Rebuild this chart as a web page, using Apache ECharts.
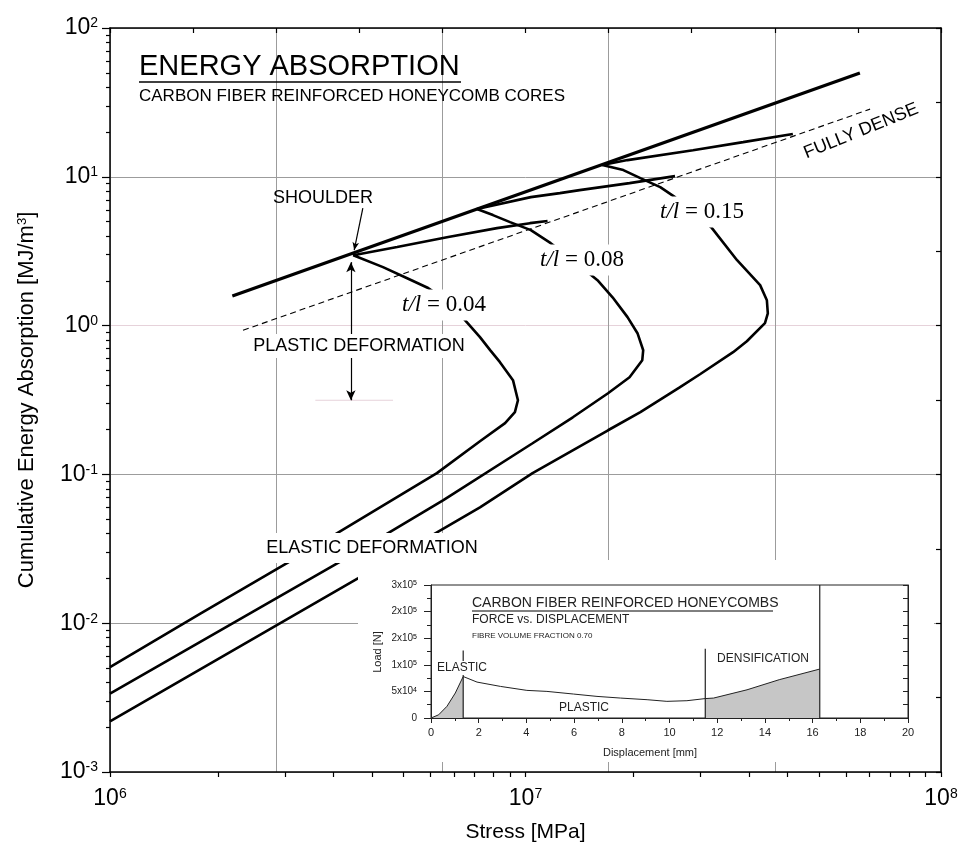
<!DOCTYPE html>
<html><head><meta charset="utf-8">
<script src="https://cdn.jsdelivr.net/npm/echarts@6/dist/echarts.min.js"></script>
<style>html,body{margin:0;padding:0;background:#fff}#c{width:958px;height:848px}</style>
</head><body><div id="c"></div>
<script>
// ---------- data (stress [Pa], cumulative energy [MJ/m3]) ----------
const tl04 = [[1.00e6,5.07e-3],[1.65e6,1.16e-2],[2.87e6,2.86e-2],[6.12e6,0.102],[7.77e6,0.167],[8.93e6,0.221],[9.43e6,0.262],[9.59e6,0.315],[9.33e6,0.430],[8.68e6,0.568],[8.22e6,0.684],[7.77e6,0.836],[7.15e6,1.09],[6.44e6,1.48],[5.83e6,1.79],[5.19e6,2.08],[4.54e6,2.47],[3.85e6,2.97],[4.91e6,3.37],[6.47e6,3.93],[8.54e6,4.52],[1.025e7,4.88],[1.13e7,5.04]];
const tl08 = [[1.00e6,3.36e-3],[3.60e6,2.61e-2],[6.33e6,6.70e-2],[1.04e7,0.162],[1.30e7,0.242],[1.58e7,0.351],[1.78e7,0.450],[1.91e7,0.585],[1.92e7,0.683],[1.86e7,0.889],[1.76e7,1.14],[1.62e7,1.55],[1.49e7,2.02],[1.32e7,2.67],[1.15e7,3.58],[1.03e7,4.38],[9.18e6,4.96],[8.35e6,5.53],[7.64e6,6.07],[1.03e7,7.30],[1.21e7,7.77],[1.35e7,8.14],[1.78e7,9.07],[2.29e7,10.1]];
const tl15 = [[1.00e6,2.19e-3],[3.95e6,2.00e-2],[7.77e6,6.01e-2],[1.04e7,0.102],[1.58e7,0.198],[1.89e7,0.262],[2.35e7,0.385],[2.63e7,0.471],[3.16e7,0.663],[3.41e7,0.785],[3.77e7,1.04],[3.83e7,1.21],[3.81e7,1.48],[3.67e7,1.87],[3.23e7,2.75],[2.81e7,4.52],[2.53e7,5.79],[2.29e7,7.30],[2.11e7,8.53],[1.89e7,9.80],[1.72e7,11.1],[1.53e7,12.0],[1.76e7,12.95],[2.53e7,15.1],[3.34e7,17.1],[4.40e7,19.4]];
const shoulderEnvelope = [[1.97e6,1.58],[6.38e7,49.8]];
const fullyDense = [[2.09e6,0.93],[6.75e7,28.5]];
const plasticArrow = [[3.80e6,2.67],[3.80e6,0.315]];
const shoulderPointer = [[4.06e6,6.16],[3.87e6,3.21]];
const pinkMark = [[3.12e6,0.315],[4.80e6,0.315]];

// ---------- tick values / labels ----------
const xDecades = [1e6, 1e7, 1e8];
const xMinorMantissa = [1.818, 2.636, 3.455, 4.273, 5.091, 5.909, 6.727, 7.545, 8.364, 9.182];
const xTickLabels = ['10{s|6}', '10{s|7}', '10{s|8}'];
const yDecades = [1e-3, 1e-2, 1e-1, 1, 10, 100];
const yMinorMantissa = [2, 3, 4, 5, 6, 7, 8, 9];
const yTickLabels = ['10{s|-3}', '10{s|-2}', '10{s|-1}', '10{s|0}', '10{s|1}', '10{s|2}'];

// ---------- inset data (displacement [mm], load [N]) ----------
const insetElastic = [[0,0],[0.32,6000],[0.67,22000],[1.02,47000],[1.35,78000]];
const insetPlastic = [[1.35,78000],[1.93,67500],[2.91,59400],[4.02,51900],[4.86,50000],[5.98,45000],[6.96,40600],[7.94,37500],[9.06,34400],[9.89,31300],[10.73,32500],[11.5,36500]];
const insetDensification = [[11.5,36500],[11.85,37500],[13.25,53000],[14.6,72000],[16.3,92000]];
const insetBoundaries = [[1.35,127000],[11.5,130000],[16.3,250000]];
const insetYLabels = ['0','5x10{s|4}','1x10{s|5}','2x10{s|5}','2x10{s|5}','3x10{s|5}'];

// ---------- build ----------
const FF = '"Liberation Sans", Arial, sans-serif';
const SERIF = '"Liberation Serif", "Times New Roman", serif';
const lg = Math.log10;
const xBottomTicks = [];
xDecades.forEach((d, i) => { xBottomTicks.push(lg(d)); if (i < xDecades.length - 1) xMinorMantissa.forEach(m => xBottomTicks.push(lg(d * m))); });
const yMinorTicks = [];
yDecades.forEach((d, i) => { if (i < yDecades.length - 1) yMinorMantissa.forEach(m => yMinorTicks.push(lg(d * m))); });

const chart = echarts.init(document.getElementById('c'), null, {renderer: 'canvas'});
const black = '#000';
const supRich = (big, small) => ({ s: {fontSize: small, verticalAlign: 'top', fontFamily: FF, color: black, lineHeight: big} });

function line(data, width, extra) {
  return Object.assign({type: 'line', xAxisIndex: 0, yAxisIndex: 0, data: data, symbol: 'none', silent: true,
    lineStyle: {color: black, width: width}, z: 3}, extra || {});
}
function txt(text, x, y, size, opt) {
  opt = opt || {};
  return {type: 'text', x: x, y: y, rotation: opt.rotation || 0, z: opt.z || 15, silent: true,
    style: Object.assign({text: text, fill: opt.color || black, fontSize: size, fontFamily: opt.family || FF,
      textAlign: opt.align || 'center', textVerticalAlign: 'middle'}, opt.style || {})};
}
function hline(x1, x2, y, z, w) { return {type: 'line', z: z, silent: true, shape: {x1: x1, y1: y, x2: x2, y2: y}, style: {stroke: black, lineWidth: w || 1}}; }
const noZeroLine = {show: false, onZero: false};

const option = {
  animation: false,
  backgroundColor: '#fff',
  textStyle: {fontFamily: FF},
  grid: [
    {left: 110, right: 17, top: 28, bottom: 76, show: false, outerBoundsMode: 'none'},
    {left: 431, right: 50, top: 585, bottom: 130, show: true, borderColor: '#222', borderWidth: 1, backgroundColor: 'rgba(0,0,0,0)', z: 20, outerBoundsMode: 'none'}
  ],
  xAxis: [
    {type: 'log', logBase: 10, gridIndex: 0, min: 1e6, max: 1e8, position: 'bottom',
     axisLine: {show: true, onZero: false, lineStyle: {color: black, width: 1.5}},
     axisTick: {show: false}, splitLine: {show: false},
     axisLabel: {color: black, fontSize: 23, margin: 15, fontFamily: FF,
       formatter: v => xTickLabels[Math.round(lg(v)) - 6], rich: supRich(23, 14)},
     name: 'Stress [MPa]', nameLocation: 'middle', nameGap: 50,
     nameTextStyle: {fontSize: 21, color: black, fontFamily: FF}},
    {type: 'value', gridIndex: 0, min: 6, max: 8, position: 'bottom',
     axisLine: noZeroLine, axisLabel: {show: false}, splitLine: {show: false},
     axisTick: {show: true, customValues: xBottomTicks, length: 5, lineStyle: {color: black, width: 1.2}}},
    {type: 'value', gridIndex: 0, min: 6, max: 8, interval: 0.2, position: 'top',
     axisLine: {show: true, onZero: false, lineStyle: {color: black, width: 1.5}}, axisLabel: {show: false}, splitLine: {show: false},
     axisTick: {show: true, inside: true, length: 5, lineStyle: {color: black, width: 1.2}}},
    {type: 'value', gridIndex: 0, min: 6, max: 8, interval: 0.4, position: 'top',
     axisLine: noZeroLine, axisLabel: {show: false}, axisTick: {show: false},
     splitLine: {show: true, lineStyle: {color: '#9c9c9c', width: 1}}},
    {type: 'value', gridIndex: 1, min: 0, max: 20, interval: 2, position: 'bottom', z: 20,
     axisLine: {show: true, onZero: false, lineStyle: {color: '#222', width: 1}},
     axisTick: {show: true, length: 5, lineStyle: {color: '#222'}},
     minorTick: {show: true, splitNumber: 2, length: 3, lineStyle: {color: '#222'}},
     axisLabel: {color: '#222', fontSize: 11, margin: 9, fontFamily: FF}, splitLine: {show: false}}
  ],
  yAxis: [
    {type: 'log', logBase: 10, gridIndex: 0, min: 1e-3, max: 1e2, position: 'left',
     axisLine: {show: true, onZero: false, lineStyle: {color: black, width: 1.5}},
     axisTick: {show: false}, splitLine: {show: false},
     axisLabel: {color: black, fontSize: 23, margin: 12, fontFamily: FF,
       formatter: v => yTickLabels[Math.round(lg(v)) + 3], rich: supRich(23, 14)},
     name: 'Cumulative Energy Absorption [MJ/m{s|3}]', nameLocation: 'middle', nameGap: 72, nameRotate: 90,
     nameTextStyle: {fontSize: 22, color: black, fontFamily: FF, rich: supRich(22, 13)}},
    {type: 'value', gridIndex: 0, min: -3, max: 2, position: 'left',
     axisLine: noZeroLine, axisLabel: {show: false}, splitLine: {show: false},
     axisTick: {show: true, customValues: yMinorTicks, length: 4, lineStyle: {color: black, width: 1.2}}},
    {type: 'value', gridIndex: 0, min: -3, max: 2, interval: 1, position: 'left',
     axisLine: noZeroLine, axisLabel: {show: false},
     axisTick: {show: true, length: 8, lineStyle: {color: black, width: 1.2}},
     splitLine: {show: true, lineStyle: {color: ['#9c9c9c', '#9c9c9c', '#9c9c9c', '#e6d2da', '#9c9c9c', '#9c9c9c'], width: 1}}},
    {type: 'value', gridIndex: 0, min: -3, max: 2, interval: 0.5, position: 'right',
     axisLine: {show: true, onZero: false, lineStyle: {color: black, width: 1.5}}, axisLabel: {show: false}, splitLine: {show: false},
     axisTick: {show: true, inside: true, length: 5, lineStyle: {color: black, width: 1.2}}},
    {type: 'value', gridIndex: 1, min: 0, max: 250000, interval: 50000, position: 'left', z: 20,
     axisLine: {show: true, onZero: false, lineStyle: {color: '#222', width: 1}},
     axisTick: {show: true, length: 7, lineStyle: {color: '#222'}},
     minorTick: {show: true, splitNumber: 2, length: 4, lineStyle: {color: '#222'}},
     axisLabel: {color: '#222', fontSize: 10, margin: 14, fontFamily: FF,
       formatter: v => insetYLabels[Math.round(v / 50000)], rich: supRich(10, 7)},
     splitLine: {show: false}},
    {type: 'value', gridIndex: 1, min: 0, max: 250000, interval: 25000, position: 'right', z: 20,
     axisLine: {show: true, onZero: false, lineStyle: {color: '#222', width: 1}},
     axisTick: {show: true, inside: true, length: 5, lineStyle: {color: '#222'}},
     axisLabel: {show: false}, splitLine: {show: false}}
  ],
  series: [
    line(fullyDense, 1.1, {lineStyle: {color: black, width: 1.1, type: [6, 4]}}),
    line(shoulderEnvelope, 3.3),
    line(tl04, 2.6),
    line(tl08, 2.6),
    line(tl15, 2.6),
    line(pinkMark, 1, {lineStyle: {color: '#e6d2da', width: 1}, z: 1,
      markLine: {silent: true, animation: false, label: {show: false}, precision: 10,
        data: [
          [{coord: plasticArrow[0], symbol: 'arrow', symbolSize: [7, 10]}, {coord: plasticArrow[1], symbol: 'arrow', symbolSize: [7, 10]}],
          [{coord: shoulderPointer[0], symbol: 'none'}, {coord: shoulderPointer[1], symbol: 'arrow', symbolSize: [5, 8]}]
        ],
        lineStyle: {color: black, width: 1.2, type: 'solid'}}}),
    {type: 'line', xAxisIndex: 4, yAxisIndex: 4, data: insetElastic, symbol: 'none', silent: true, z: 21,
     lineStyle: {color: '#222', width: 1}, areaStyle: {color: '#c6c6c6', opacity: 1}},
    {type: 'line', xAxisIndex: 4, yAxisIndex: 4, data: insetPlastic, symbol: 'none', silent: true, z: 21,
     lineStyle: {color: '#222', width: 1}},
    {type: 'line', xAxisIndex: 4, yAxisIndex: 4, data: insetDensification, symbol: 'none', silent: true, z: 21,
     lineStyle: {color: '#222', width: 1}, areaStyle: {color: '#c6c6c6', opacity: 1}}
  ].concat(insetBoundaries.map(b => ({type: 'line', xAxisIndex: 4, yAxisIndex: 4, data: [[b[0], 0], [b[0], b[1]]],
     symbol: 'none', silent: true, z: 22, lineStyle: {color: '#222', width: 1.2}}))),
  graphic: {elements: [
    {type: 'rect', z: 10, silent: true, shape: {x: 358, y: 560, width: 576, height: 202}, style: {fill: '#fff'}},
    txt('ENERGY ABSORPTION', 139, 67, 29, {align: 'left'}),
    hline(139, 461, 82, 15, 1.6),
    txt('CARBON FIBER REINFORCED HONEYCOMB CORES', 139, 96, 17, {align: 'left'}),
    txt('SHOULDER', 323, 198, 18),
    txt('PLASTIC DEFORMATION', 359, 346, 18, {style: {backgroundColor: '#fff', padding: [3, 2]}}),
    txt('ELASTIC DEFORMATION', 372, 548, 18, {style: {backgroundColor: '#fff', padding: [6, 2]}}),
    txt('FULLY DENSE', 861, 131, 18, {rotation: 0.385}),
    txt('{i|t/l} = 0.04', 444, 305, 23, {family: SERIF, style: {backgroundColor: '#fff', padding: [4, 3], rich: {i: {fontStyle: 'italic', fontSize: 23, fontFamily: SERIF}}}}),
    txt('{i|t/l} = 0.08', 582, 260, 23, {family: SERIF, style: {backgroundColor: '#fff', padding: [4, 3], rich: {i: {fontStyle: 'italic', fontSize: 23, fontFamily: SERIF}}}}),
    txt('{i|t/l} = 0.15', 702, 212, 23, {family: SERIF, style: {backgroundColor: '#fff', padding: [4, 3], rich: {i: {fontStyle: 'italic', fontSize: 23, fontFamily: SERIF}}}}),
    txt('CARBON FIBER REINFORCED HONEYCOMBS', 472, 603, 14, {align: 'left', z: 25, color: '#222'}),
    hline(472, 773, 611, 25, 1),
    txt('FORCE vs. DISPLACEMENT', 472, 620, 12, {align: 'left', z: 25, color: '#222'}),
    txt('FIBRE VOLUME FRACTION 0.70', 472, 636, 8, {align: 'left', z: 25, color: '#222'}),
    txt('ELASTIC', 462, 668, 12, {z: 25, color: '#222', style: {backgroundColor: '#fff', padding: [1, 1]}}),
    txt('PLASTIC', 584, 708, 12, {z: 25, color: '#222'}),
    txt('DENSIFICATION', 763, 659, 12, {z: 25, color: '#222'}),
    txt('Displacement [mm]', 650, 753, 11, {z: 25, color: '#222'}),
    txt('Load [N]', 378, 652, 11, {z: 25, color: '#222', rotation: Math.PI / 2})
  ]}
};
chart.setOption(option);
</script>
</body></html>
